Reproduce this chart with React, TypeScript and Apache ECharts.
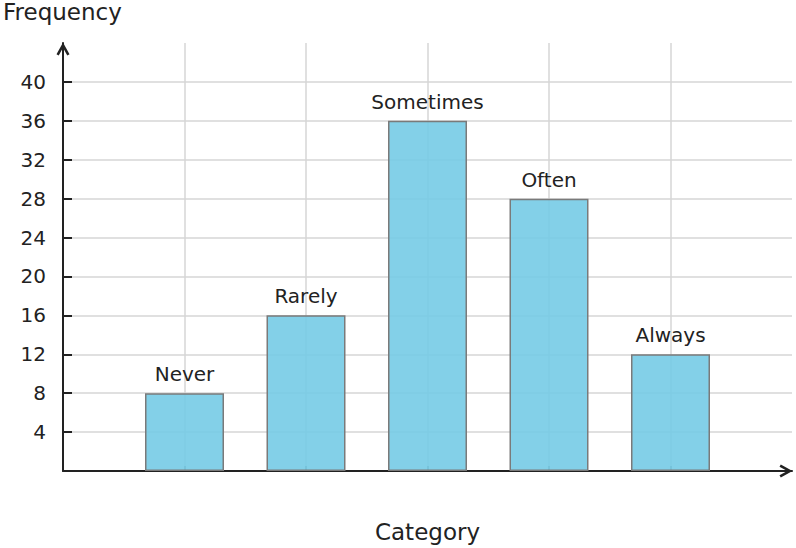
import {useEffect, useRef} from 'react';
import * as echarts from 'echarts';

const categories = ['Never', 'Rarely', 'Sometimes', 'Often', 'Always'];
const frequencies = [8, 16, 36, 28, 12];
const yTicks = [4, 8, 12, 16, 20, 24, 28, 32, 36, 40];
const xTicks = [1, 2, 3, 4, 5];

const FONT = 'DejaVu Sans';
const INK = '#222222';
// open chevron arrow head, tip pointing up
const CHEVRON = 'path://M0,9 L5,0 L10,9 L8.3,10 L5,4 L1.7,10 Z';

export default function App() {
    const ref = useRef<HTMLDivElement | null>(null);

    useEffect(() => {
        if (!ref.current) return;
        const chart = echarts.init(ref.current, null, {renderer: 'svg'});

        chart.setOption({
            animation: false,
            textStyle: {fontFamily: FONT},
            grid: {left: 63, right: 4, top: 43, bottom: 77, containLabel: false, outerBoundsMode: 'none'},
            graphic: [
                {type: 'text', left: 3, top: 0, style: {text: 'Frequency', font: `23px "${FONT}"`, fill: INK}}
            ],
            xAxis: {
                type: 'value',
                min: 0,
                max: 6,
                interval: 1,
                name: 'Category',
                nameLocation: 'middle',
                nameGap: 49,
                nameTextStyle: {fontSize: 23, color: INK, fontFamily: FONT},
                axisLine: {
                    show: true,
                    symbol: ['none', CHEVRON],
                    symbolSize: [13, 13],
                    symbolOffset: [0, -6],
                    lineStyle: {color: INK, width: 2}
                },
                axisTick: {show: true, inside: true, length: 5, customValues: xTicks, lineStyle: {color: '#555', width: 1.5}},
                axisLabel: {show: false},
                splitLine: {show: true, lineStyle: {color: '#d6d6d6', width: 1.5}}
            },
            yAxis: {
                type: 'value',
                min: 0,
                max: 44,
                interval: 4,
                axisLine: {
                    show: true,
                    symbol: ['none', CHEVRON],
                    symbolSize: [13, 13],
                    symbolOffset: [0, -6],
                    lineStyle: {color: INK, width: 2}
                },
                axisTick: {show: true, inside: true, length: 9, customValues: yTicks, lineStyle: {color: INK, width: 2}},
                axisLabel: {customValues: yTicks, margin: 17, fontSize: 20, color: INK, fontFamily: FONT},
                splitLine: {show: true, lineStyle: {color: '#d6d6d6', width: 1.5}}
            },
            series: [{
                type: 'bar',
                data: frequencies.map((v, i) => [i + 1, v]),
                barWidth: 79,
                itemStyle: {color: 'rgba(118,203,230,0.9)', borderColor: '#7a7a7a', borderWidth: 1.5},
                label: {
                    show: true,
                    position: 'top',
                    distance: 9,
                    formatter: (p: any) => categories[p.dataIndex],
                    fontSize: 20,
                    color: INK,
                    fontFamily: FONT
                }
            }]
        });

        return () => chart.dispose();
    }, []);

    return <div ref={ref} style={{position: 'absolute', left: 0, top: 0, width: 796, height: 548}}/>;
}
